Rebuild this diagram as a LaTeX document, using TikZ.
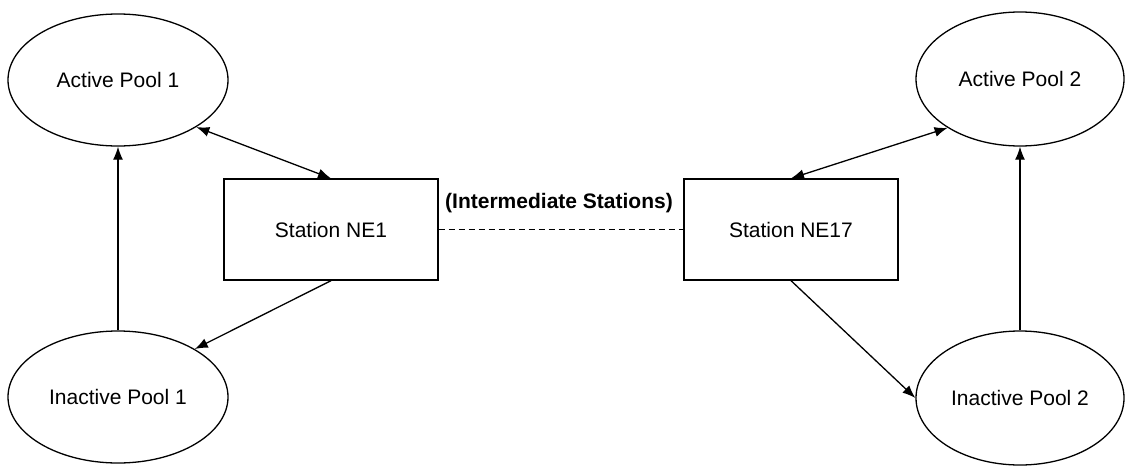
\documentclass[tikz,border=0pt]{standalone}
\usepackage{fontspec}
\setmainfont{Liberation Sans}
\usetikzlibrary{arrows.meta,shapes.geometric}
\begin{document}
\begin{tikzpicture}[x=1pt,y=-1pt,
  pool/.style={draw, ellipse, line width=1.3pt, inner sep=0pt, font=\fontsize{21}{25}\selectfont},
  stationbox/.style={draw, rectangle, line width=1.3pt, inner sep=0pt, minimum width=214pt, minimum height=101pt, font=\fontsize{21}{25}\selectfont},
  conn/.style={line width=1.3pt, -{Latex[length=13pt,width=10pt]}},
  biconn/.style={line width=1.3pt, {Latex[length=13pt,width=10pt]}-{Latex[length=13pt,width=10pt]}},
  dashconn/.style={line width=1pt, dash pattern=on 6pt off 4pt},
  lbl/.style={font=\fontsize{21}{25}\selectfont\bfseries, inner sep=0pt}]
\useasboundingbox (0,0) rectangle (1126,466);
\node[pool, minimum width=220pt, minimum height=132pt] (a1) at (118,80) {Active Pool 1};
\node[pool, minimum width=220pt, minimum height=132pt] (i1) at (118,397) {Inactive Pool 1};
\node[pool, minimum width=208pt, minimum height=134pt] (a2) at (1020,79) {Active Pool 2};
\node[pool, minimum width=208pt, minimum height=134pt] (i2) at (1020,398) {Inactive Pool 2};
\node[stationbox] (ne1) at (331,229.5) {Station NE1};
\node[stationbox] (ne17) at (791,229.5) {Station NE17};
\node[lbl] (lab) at (559,203) {(Intermediate Stations)};
\draw[conn] (i1.north) -- (a1.south);
\draw[conn] (i2.north) -- (a2.south);
\draw[biconn] (a1.-31) -- (ne1.north);
\draw[conn] (ne1.south) -- (i1.32);
\draw[biconn] (ne17.north) -- (a2.214);
\draw[conn] (ne17.south) -- (i2.west);
\draw[dashconn] (ne1.east) -- (ne17.west);
\end{tikzpicture}
\end{document}
